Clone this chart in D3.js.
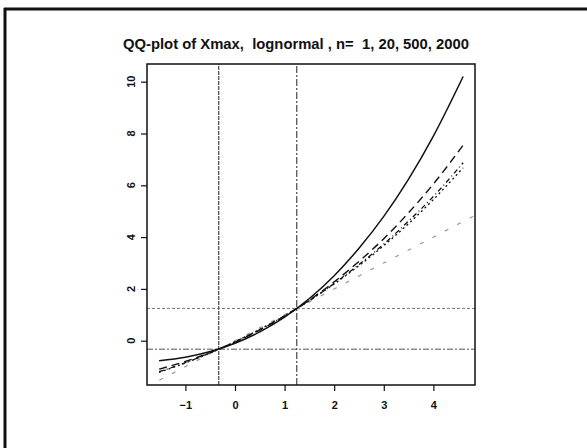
<!DOCTYPE html>
<html lang="en">
<head>
<meta charset="UTF-8">
<title>QQ-plot of Xmax</title>
<script src="https://cdnjs.cloudflare.com/ajax/libs/d3/7.8.5/d3.min.js"></script>
<style>
    body { margin: 0; background: #fff; }
    svg text { font-family: "Liberation Sans", Arial, sans-serif; fill: #111; }
</style>
</head>
<body>
<div class="chart"></div>
<script>
    // Gumbel quantiles on the x axis, and the normalised quantiles of Xmax
    const gumbelQ = [-1.53, -1.0, -0.5, 0, 0.5, 1.0, 1.5, 2.0, 2.5, 3.0, 3.5, 4.0, 4.6];
    const n1 = [-0.77, -0.64, -0.42, -0.10, 0.34, 0.91, 1.63, 2.51, 3.57, 4.80, 6.24, 7.90, 10.20];
    const n20 = [-1.10, -0.80, -0.46, -0.06, 0.41, 0.95, 1.57, 2.27, 3.06, 3.94, 4.94, 6.05, 7.55];
    const n500 = [-1.20, -0.85, -0.47, -0.04, 0.43, 0.96, 1.55, 2.21, 2.94, 3.73, 4.62, 5.57, 6.87];
    const n2000 = [-1.22, -0.86, -0.47, -0.04, 0.44, 0.96, 1.55, 2.19, 2.90, 3.67, 4.52, 5.45, 6.68];

    // quartiles of the Gumbel law, marked with h/v lines
    const quartiles = [-0.327, 1.246];

    const xTicks = [-1, 0, 1, 2, 3, 4];
    const yTicks = [0, 2, 4, 6, 8, 10];

    const W = 587, H = 448;
    const box = {left: 147, right: 475, top: 64, bottom: 385};

    const svg = d3.select('.chart')
        .append('svg')
        .attr('width', W)
        .attr('height', H);

    // scanned page frame (top and left edge only)
    svg.append('line')
        .attr('x1', 4).attr('x2', W).attr('y1', 9).attr('y2', 9)
        .attr('stroke', '#111').attr('stroke-width', 3);
    svg.append('line')
        .attr('x1', 5).attr('x2', 5).attr('y1', 8).attr('y2', H)
        .attr('stroke', '#111').attr('stroke-width', 3);

    svg.append('text')
        .attr('x', 123)
        .attr('y', 49)
        .attr('font-size', 14)
        .attr('font-weight', 'bold')
        .attr('textLength', 346)
        .attr('lengthAdjust', 'spacingAndGlyphs')
        .style('white-space', 'pre')
        .text('QQ-plot of Xmax,  lognormal , n=  1, 20, 500, 2000');

    const xScale = d3.scaleLinear()
        .domain([-1.774, 4.839])
        .range([box.left, box.right]);

    const yScale = d3.scaleLinear()
        .domain([-1.71, 10.683])
        .range([box.bottom, box.top]);

    svg.append('clipPath')
        .attr('id', 'plotclip')
        .append('rect')
        .attr('x', box.left).attr('y', box.top)
        .attr('width', box.right - box.left)
        .attr('height', box.bottom - box.top);

    const plot = svg.append('g').attr('clip-path', 'url(#plotclip)');

    // reference lines at the quartiles
    const [xMin, xMax] = xScale.domain();
    const [yMin, yMax] = yScale.domain();

    plot.append('line')
        .attr('x1', xScale(quartiles[0])).attr('x2', xScale(quartiles[0]))
        .attr('y1', yScale(yMin)).attr('y2', yScale(yMax))
        .attr('stroke', '#222').attr('stroke-width', 1)
        .attr('stroke-dasharray', '4,1');
    plot.append('line')
        .attr('x1', xScale(quartiles[1])).attr('x2', xScale(quartiles[1]))
        .attr('y1', yScale(yMin)).attr('y2', yScale(yMax))
        .attr('stroke', '#222').attr('stroke-width', 1)
        .attr('stroke-dasharray', '7,2,2,2');
    plot.append('line')
        .attr('x1', xScale(xMin)).attr('x2', xScale(xMax))
        .attr('y1', yScale(quartiles[1])).attr('y2', yScale(quartiles[1]))
        .attr('stroke', '#777').attr('stroke-width', 1)
        .attr('stroke-dasharray', '3,2');
    plot.append('line')
        .attr('x1', xScale(xMin)).attr('x2', xScale(xMax))
        .attr('y1', yScale(quartiles[0])).attr('y2', yScale(quartiles[0]))
        .attr('stroke', '#555').attr('stroke-width', 1)
        .attr('stroke-dasharray', '6,2,2,2');

    // Gumbel limit: the line y = x
    plot.append('line')
        .attr('x1', xScale(xMin)).attr('y1', yScale(xMin))
        .attr('x2', xScale(xMax)).attr('y2', yScale(xMax))
        .attr('stroke', '#999').attr('stroke-width', 1.2)
        .attr('stroke-dasharray', '4,10');

    const line = d3.line()
        .x((d, i) => xScale(gumbelQ[i]))
        .y(d => yScale(d))
        .curve(d3.curveMonotoneX);

    const series = [
        {values: n1, dash: null, width: 1.5},
        {values: n20, dash: '8,5', width: 1.4},
        {values: n500, dash: '5,3,1,3', width: 1.3},
        {values: n2000, dash: '2,3', width: 1.3}
    ];

    plot.selectAll('path.curve')
        .data(series)
        .enter()
        .append('path')
        .attr('class', 'curve')
        .attr('fill', 'none')
        .attr('stroke', '#111')
        .attr('stroke-width', d => d.width)
        .attr('stroke-dasharray', d => d.dash)
        .attr('d', d => line(d.values));

    // axes
    const xAxis = d3.axisBottom(xScale)
        .tickValues(xTicks)
        .tickSize(6)
        .tickPadding(10)
        .tickFormat(d3.format('d'));

    const gx = svg.append('g')
        .attr('transform', 'translate(0,' + box.bottom + ')')
        .call(xAxis);
    gx.select('.domain').remove();
    gx.selectAll('text')
        .attr('font-size', 11)
        .attr('font-weight', 'bold')
        .attr('font-family', '"Liberation Sans", Arial, sans-serif')
        .attr('fill', '#111');
    gx.selectAll('line').attr('stroke', '#111').attr('stroke-width', 1.2);

    const yAxis = d3.axisLeft(yScale)
        .tickValues(yTicks)
        .tickSize(6)
        .tickFormat('');

    const gy = svg.append('g')
        .attr('transform', 'translate(' + box.left + ',0)')
        .call(yAxis);
    gy.select('.domain').remove();
    gy.selectAll('line').attr('stroke', '#111').attr('stroke-width', 1.2);

    gy.selectAll('text.ylab')
        .data(yTicks)
        .enter()
        .append('text')
        .attr('class', 'ylab')
        .attr('transform', d => 'translate(' + (135 - box.left) + ',' + yScale(d) + ') rotate(-90)')
        .attr('text-anchor', 'middle')
        .attr('font-size', 11)
        .attr('font-weight', 'bold')
        .text(d => d);

    // plot frame
    svg.append('rect')
        .attr('x', box.left).attr('y', box.top)
        .attr('width', box.right - box.left)
        .attr('height', box.bottom - box.top)
        .attr('fill', 'none')
        .attr('stroke', '#111')
        .attr('stroke-width', 1.5);
</script>
</body>
</html>
